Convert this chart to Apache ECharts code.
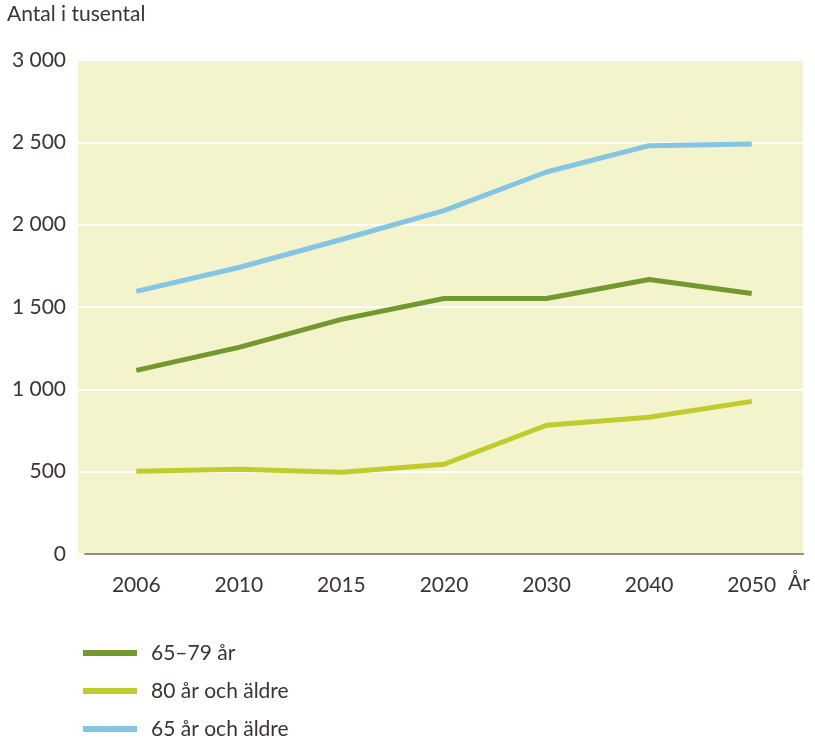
<!DOCTYPE html>
<html>
<head>
<meta charset="utf-8">
<script src="https://cdn.jsdelivr.net/npm/echarts@6/dist/echarts.min.js"></script>
<style>
  html, body { margin: 0; padding: 0; background: #fff; }
  #chart { width: 815px; height: 748px; }
</style>
</head>
<body>
<div id="chart"></div>
<script>
var years = ['2006', '2010', '2015', '2020', '2030', '2040', '2050'];
var age6579 = [1115, 1255, 1425, 1552, 1552, 1667, 1582];
var age80 = [503, 515, 497, 545, 782, 830, 927];
var age65 = [1595, 1740, 1910, 2085, 2320, 2480, 2490];
var yTicks = [0, 500, 1000, 1500, 2000, 2500, 3000];

var textColor = '#3b3430';
var font = 'Lato';

var chartDom = document.getElementById('chart');
var myChart = echarts.init(chartDom);
var option;

option = {
  animation: false,
  textStyle: { fontFamily: font, color: textColor },
  graphic: [
    { type: 'text', left: 7, top: 4, style: { text: 'Antal i tusental', fontSize: 21, fontFamily: font, fill: textColor } },
    { type: 'text', left: 788, top: 573, style: { text: 'År', fontSize: 21, fontFamily: font, fill: textColor } }
  ],
  grid: [
    { left: 78, right: 12, top: 60, bottom: 194, show: true, backgroundColor: '#f3f3cc', borderWidth: 0 },
    { left: 85, right: 12, top: 60, bottom: 194 }
  ],
  xAxis: [
    { type: 'category', gridIndex: 0, data: years, show: false },
    {
      type: 'category', gridIndex: 1, data: years, boundaryGap: true,
      axisLine: { lineStyle: { color: '#8c8c8c', width: 2 } },
      axisTick: { alignWithLabel: true, length: 14, lineStyle: { color: '#8c8c8c', width: 1.5 } },
      axisLabel: { fontSize: 21, color: textColor, margin: 21, fontFamily: font }
    }
  ],
  yAxis: [
    {
      type: 'value', gridIndex: 0, min: 0, max: 3000, interval: 500,
      axisLine: { show: false }, axisTick: { show: false },
      splitLine: { lineStyle: { color: '#ffffff', width: 2 } },
      axisLabel: {
        fontSize: 21, color: textColor, margin: 12, fontFamily: font,
        formatter: function (v) { return String(v).replace(/\B(?=(\d{3})+(?!\d))/g, ' '); }
      }
    },
    { type: 'value', gridIndex: 1, min: 0, max: 3000, interval: 500, show: false, splitLine: { show: false } }
  ],
  legend: {
    orient: 'vertical', left: 83, top: 641, height: 110, padding: 0,
    itemWidth: 54, itemHeight: 6, itemGap: 14,
    icon: 'rect',
    textStyle: { fontSize: 21, color: textColor, fontFamily: font, padding: [0, 0, 0, 9], lineHeight: 24 },
    data: ['65–79 år', '80 år och äldre', '65 år och äldre']
  },
  series: [
    { name: '65–79 år', type: 'line', xAxisIndex: 1, yAxisIndex: 1, data: age6579, symbol: 'none', lineStyle: { width: 5, color: '#72982f' }, itemStyle: { color: '#72982f' } },
    { name: '80 år och äldre', type: 'line', xAxisIndex: 1, yAxisIndex: 1, data: age80, symbol: 'none', lineStyle: { width: 5, color: '#c1cc2c' }, itemStyle: { color: '#c1cc2c' } },
    { name: '65 år och äldre', type: 'line', xAxisIndex: 1, yAxisIndex: 1, data: age65, symbol: 'none', lineStyle: { width: 5, color: '#84c5e3' }, itemStyle: { color: '#84c5e3' } }
  ]
};
option && myChart.setOption(option);
</script>
</body>
</html>
